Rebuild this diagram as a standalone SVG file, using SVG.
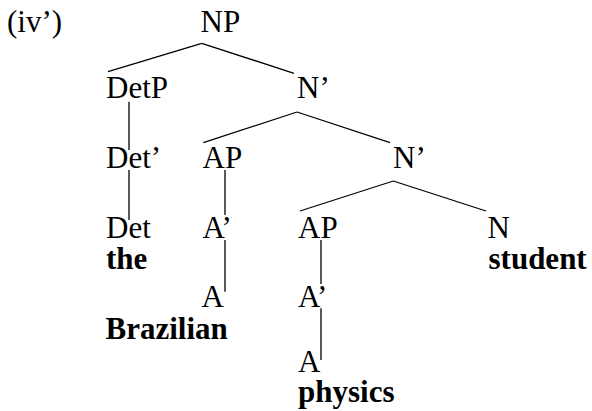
<svg xmlns="http://www.w3.org/2000/svg" width="592" height="411" viewBox="0 0 592 411">
<style>
text{font-family:'Liberation Serif','Times New Roman',Tinos,'Nimbus Roman','DejaVu Serif',serif;font-size:31px;fill:#000}
.w{font-weight:bold}
#edges line{stroke:#000;stroke-width:1.3;fill:none}
</style>
<rect width="592" height="411" fill="#fff"/>
<g font-family="Liberation Serif, Times New Roman, serif">
<text id="label" x="7" y="32">(iv’)</text>
<g id="edges">
<line x1="201.7" y1="43.3" x2="108" y2="71.7"/>
<line x1="201.7" y1="43.3" x2="294" y2="73.3"/>
<line x1="297" y1="112" x2="203.3" y2="142.7"/>
<line x1="297" y1="112" x2="390" y2="142.7"/>
<line x1="393.3" y1="181" x2="300" y2="211"/>
<line x1="393.3" y1="181" x2="486" y2="211"/>
<line x1="129" y1="101.7" x2="129" y2="150"/>
<line x1="129" y1="170" x2="129" y2="220"/>
<line x1="225" y1="170" x2="225" y2="215"/>
<line x1="225" y1="240" x2="225" y2="291.7"/>
<line x1="321" y1="240" x2="321" y2="284"/>
<line x1="321" y1="308.3" x2="321" y2="360"/>
</g>
<g id="n-NP"><text x="200.5" y="32">NP</text></g>
<g id="n-DetP"><text x="106" y="98.3">DetP</text></g>
<g id="n-N1"><text x="297" y="98.3">N’</text></g>
<g id="n-Det1"><text x="106" y="167.7">Det’</text></g>
<g id="n-AP1"><text x="202.5" y="167.7">AP</text></g>
<g id="n-N2"><text x="393" y="168">N’</text></g>
<g id="n-Det"><text x="106" y="238">Det</text><text class="w" x="106" y="269">the</text></g>
<g id="n-A1a"><text x="202.5" y="238">A’</text></g>
<g id="n-AP2"><text x="298" y="238">AP</text></g>
<g id="n-N"><text x="487.5" y="238">N</text><text class="w" x="488.5" y="269">student</text></g>
<g id="n-A1"><text x="201.5" y="306.7">A</text><text class="w" x="105.5" y="339">Brazilian</text></g>
<g id="n-A1b"><text x="298" y="306.7">A’</text></g>
<g id="n-A2"><text x="298" y="371.7">A</text><text class="w" x="298" y="402">physics</text></g>
</g>
</svg>
